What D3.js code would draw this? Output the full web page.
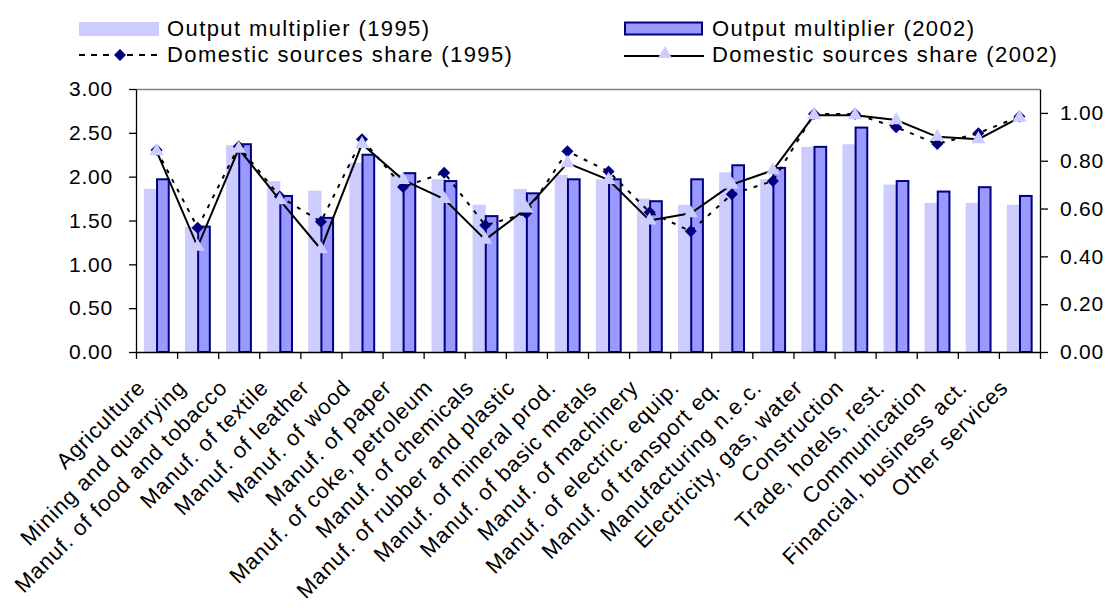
<!DOCTYPE html>
<html>
<head>
<meta charset="utf-8">
<script src="https://cdn.jsdelivr.net/npm/d3@7"></script>
<style>
body { margin: 0; background: #fff; }
text { font-family: "Liberation Sans", Arial, sans-serif; fill: #000; }
</style>
</head>
<body>
<script>
var w = 1109;
var h = 610;
var plotLeft = 136, plotRight = 1040, plotTop = 89, plotBottom = 352;

var categories = ["Agriculture", "Mining and quarrying", "Manuf. of food and tobacco", "Manuf. of textile",
    "Manuf. of leather", "Manuf. of wood", "Manuf. of paper", "Manuf. of coke, petroleum",
    "Manuf. of chemicals", "Manuf. of rubber and plastic", "Manuf. of mineral prod.", "Manuf. of basic metals",
    "Manuf. of machinery", "Manuf. of electric. equip.", "Manuf. of transport eq.", "Manufacturing n.e.c.",
    "Electricity, gas, water", "Construction", "Trade, hotels, rest.", "Communication",
    "Financial, business act.", "Other services"];

var mult1995 = [1.86, 1.43, 2.36, 1.95, 1.84, 2.16, 2.03, 1.97, 1.68, 1.86, 2.02, 1.97, 1.75, 1.68, 2.05, 1.97, 2.34, 2.37, 1.91, 1.70, 1.70, 1.68];
var mult2002 = [1.97, 1.43, 2.37, 1.78, 1.53, 2.25, 2.04, 1.95, 1.55, 1.81, 1.97, 1.97, 1.72, 1.97, 2.13, 2.10, 2.34, 2.56, 1.95, 1.83, 1.88, 1.78];
var dom1995 = [0.845, 0.52, 0.86, 0.65, 0.545, 0.89, 0.69, 0.75, 0.53, 0.58, 0.84, 0.755, 0.585, 0.505, 0.66, 0.715, 0.995, 0.995, 0.94, 0.87, 0.915, 0.985];
var dom2002 = [0.84, 0.44, 0.85, 0.635, 0.43, 0.87, 0.72, 0.64, 0.47, 0.60, 0.79, 0.72, 0.55, 0.58, 0.70, 0.76, 0.99, 0.99, 0.97, 0.90, 0.89, 0.98];

var leftTicks = [0, 0.5, 1, 1.5, 2, 2.5, 3];
var rightTicks = [0, 0.2, 0.4, 0.6, 0.8, 1.0];

var svg = d3.select("body")
    .append("svg")
    .attr("width", w)
    .attr("height", h);

svg.append("rect").attr("width", w).attr("height", h).attr("fill", "#fff");

var xScale = d3.scaleBand()
    .domain(categories)
    .range([plotLeft, plotRight]);

var xSub = d3.scaleBand()
    .domain(["1995", "2002"])
    .range([0, xScale.bandwidth()])
    .paddingOuter(0.62);

var xIdx = d3.scaleLinear().domain([0, categories.length]).range([plotLeft, plotRight]);

var yLeft = d3.scaleLinear().domain([0, 3]).range([plotBottom, plotTop]);
var yRight = d3.scaleLinear().domain([0, 1.1]).range([plotBottom, plotTop]);

// plot border (top, gray)
svg.append("line")
    .attr("x1", plotLeft).attr("x2", plotRight)
    .attr("y1", plotTop + 0.5).attr("y2", plotTop + 0.5)
    .attr("stroke", "#808080").attr("stroke-width", 1.5);

// bars
svg.selectAll("rect.b95")
    .data(mult1995)
    .enter()
    .append("rect")
    .attr("class", "b95")
    .attr("x", function (d, i) { return xScale(categories[i]) + xSub("1995"); })
    .attr("y", function (d) { return yLeft(d); })
    .attr("width", xSub.bandwidth() + 0.5)
    .attr("height", function (d) { return plotBottom - yLeft(d); })
    .attr("fill", "#ccccff");

svg.selectAll("rect.b02")
    .data(mult2002)
    .enter()
    .append("rect")
    .attr("class", "b02")
    .attr("x", function (d, i) { return xScale(categories[i]) + xSub("2002") + 0.5; })
    .attr("y", function (d) { return yLeft(d); })
    .attr("width", xSub.bandwidth() - 1)
    .attr("height", function (d) { return plotBottom - yLeft(d); })
    .attr("fill", "#9999ff")
    .attr("stroke", "#000080")
    .attr("stroke-width", 2);

// axes
var yAxisL = d3.axisLeft(yLeft).tickValues(leftTicks).tickFormat(d3.format(".2f"))
    .tickSize(7).tickSizeOuter(0).tickPadding(16);
var yAxisR = d3.axisRight(yRight).tickValues(rightTicks).tickFormat(d3.format(".2f"))
    .tickSize(8).tickSizeOuter(0).tickPadding(12);
var xAxis = d3.axisBottom(xIdx).tickValues(d3.range(categories.length + 1)).tickFormat("")
    .tickSize(7).tickSizeOuter(0);

var gL = svg.append("g").attr("transform", "translate(" + plotLeft + ",0)").call(yAxisL);
var gR = svg.append("g").attr("transform", "translate(" + plotRight + ",0)").call(yAxisR);
var gX = svg.append("g").attr("transform", "translate(0," + plotBottom + ")").call(xAxis);

[gL, gR, gX].forEach(function (g) {
    g.selectAll("path, line").attr("stroke", "#000").attr("stroke-width", 1.3);
    g.selectAll("text")
        .style("font-family", "'Liberation Sans', Arial, sans-serif")
        .style("font-size", "21px")
        .style("letter-spacing", "0.8px")
        .attr("fill", "#000");
});

// category labels
svg.append("g")
    .selectAll("text")
    .data(categories)
    .enter()
    .append("text")
    .attr("transform", function (d) {
        var cx = xScale(d) + xScale.bandwidth() / 2;
        return "translate(" + (cx - 10) + "," + 389 + ") rotate(-45)";
    })
    .attr("text-anchor", "end")
    .style("font-size", "22px")
    .style("letter-spacing", "0.9px")
    .text(function (d) { return d; });

// lines
function px(i) { return xScale(categories[i]) + xScale.bandwidth() / 2; }

var line = d3.line()
    .x(function (d, i) { return px(i); })
    .y(function (d) { return yRight(d); });

var diamond = d3.symbol().type(d3.symbolSquare).size(72);
var triangle = d3.symbol().type(d3.symbolTriangle).size(85);

svg.append("path")
    .datum(dom1995)
    .attr("d", line)
    .attr("fill", "none")
    .attr("stroke", "#000")
    .attr("stroke-width", 2)
    .attr("stroke-dasharray", "4,7");

svg.selectAll("path.dia")
    .data(dom1995)
    .enter()
    .append("path")
    .attr("class", "dia")
    .attr("d", diamond)
    .attr("transform", function (d, i) { return "translate(" + px(i) + "," + yRight(d) + ") rotate(45)"; })
    .attr("fill", "#000080");

svg.append("path")
    .datum(dom2002)
    .attr("d", line)
    .attr("fill", "none")
    .attr("stroke", "#000")
    .attr("stroke-width", 2);

svg.selectAll("path.tri")
    .data(dom2002)
    .enter()
    .append("path")
    .attr("class", "tri")
    .attr("d", triangle)
    .attr("transform", function (d, i) { return "translate(" + px(i) + "," + yRight(d) + ")"; })
    .attr("fill", "#ccccff");

// legend
var legend = svg.append("g");
var legendFont = "22px", legendSpacing = "1.4px";

legend.append("rect")
    .attr("x", 79).attr("y", 22).attr("width", 80).attr("height", 14)
    .attr("fill", "#ccccff");
legend.append("text").attr("x", 167).attr("y", 36)
    .style("font-size", legendFont).style("letter-spacing", legendSpacing)
    .text("Output multiplier (1995)");

legend.append("line")
    .attr("x1", 79).attr("x2", 159).attr("y1", 55).attr("y2", 55)
    .attr("stroke", "#000").attr("stroke-width", 2).attr("stroke-dasharray", "6,6");
legend.append("path")
    .attr("d", diamond)
    .attr("transform", "translate(120,55) rotate(45)")
    .attr("fill", "#000080");
legend.append("text").attr("x", 167).attr("y", 62)
    .style("font-size", legendFont).style("letter-spacing", legendSpacing)
    .text("Domestic sources share (1995)");

legend.append("rect")
    .attr("x", 625).attr("y", 22.5).attr("width", 77).attr("height", 12)
    .attr("fill", "#9999ff").attr("stroke", "#000080").attr("stroke-width", 2);
legend.append("text").attr("x", 712).attr("y", 36)
    .style("font-size", legendFont).style("letter-spacing", legendSpacing)
    .text("Output multiplier (2002)");

legend.append("line")
    .attr("x1", 624).attr("x2", 704).attr("y1", 56).attr("y2", 56)
    .attr("stroke", "#000").attr("stroke-width", 2);
legend.append("path")
    .attr("d", triangle)
    .attr("transform", "translate(665,54)")
    .attr("fill", "#ccccff");
legend.append("text").attr("x", 712).attr("y", 62)
    .style("font-size", legendFont).style("letter-spacing", legendSpacing)
    .text("Domestic sources share (2002)");
</script>
</body>
</html>
